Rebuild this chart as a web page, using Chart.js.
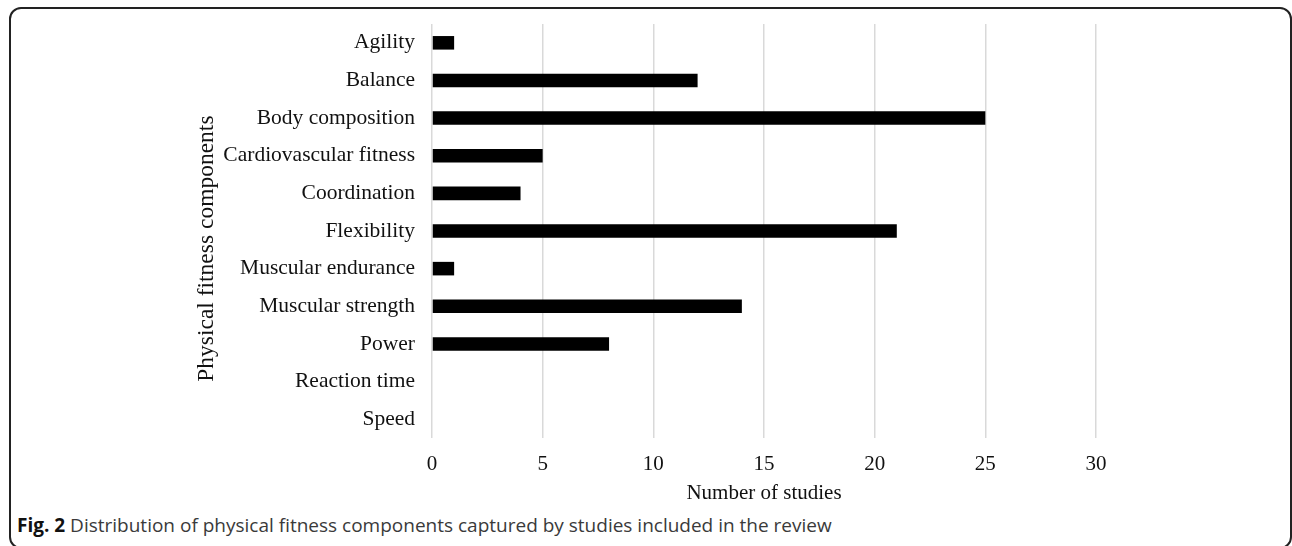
<!DOCTYPE html>
<html>
<head>
<meta charset="utf-8">
<script src="https://cdn.jsdelivr.net/npm/chart.js@4.4.1/dist/chart.umd.min.js"></script>
<style>
  html, body { margin: 0; padding: 0; background: #fff; }
  body { width: 1292px; height: 546px; position: relative; overflow: hidden; }
  .frame {
    position: absolute; left: 9px; top: 7px; width: 1283px; height: 542px;
    border: 2px solid #222; border-radius: 12px; box-sizing: border-box;
  }
  .chart-box { position: absolute; left: 0; top: 0; width: 1292px; height: 510px; }
  .caption {
    position: absolute; left: 17px; top: 512px;
    font-family: "Open Sans", sans-serif; font-size: 19px; color: #3a3a3a;
  }
  .caption b { color: #111; }
</style>
</head>
<body>
<div class="frame"></div>
<div class="chart-box"><canvas id="fitness"></canvas></div>
<div class="caption"><b>Fig. 2</b> Distribution of physical fitness components captured by studies included in the review</div>

<script>
// fitness components counted across the reviewed studies
const components = [
  'Agility',
  'Balance',
  'Body composition',
  'Cardiovascular fitness',
  'Coordination',
  'Flexibility',
  'Muscular endurance',
  'Muscular strength',
  'Power',
  'Reaction time',
  'Speed'
];
const studyCounts = [1, 12, 25, 5, 4, 21, 1, 14, 8, 0, 0];
const xTicks = [0, 5, 10, 15, 20, 25, 30];

const serif = 'Liberation Serif, Times New Roman, serif';

const ctx = document.querySelector('#fitness');

const chartData = {
  labels: components,
  datasets: [
    {
      label: 'Number of studies',
      data: studyCounts,
      backgroundColor: '#000',
      barPercentage: 0.36,
      categoryPercentage: 1
    }
  ]
};

const fitnessChart = new Chart(ctx, {
  type: 'bar',
  data: chartData,
  options: {
    indexAxis: 'y',
    responsive: true,
    maintainAspectRatio: false,
    animation: false,
    layout: { padding: { top: 24, left: 193, right: 196, bottom: 4 } },
    plugins: {
      legend: { display: false },
      tooltip: { enabled: false }
    },
    scales: {
      x: {
        min: 0,
        max: 30,
        afterBuildTicks: (scale) => {
          scale.ticks = xTicks.map(v => ({ value: v }));
        },
        afterFit: (scale) => { scale.height = 68; },
        grid: { color: '#d9d9d9', lineWidth: 1.5, drawTicks: false },
        border: { display: false },
        ticks: { color: '#111', padding: 14, font: { family: serif, size: 21 } },
        title: {
          display: true,
          text: 'Number of studies',
          color: '#111',
          padding: { top: 4, bottom: 0 },
          font: { family: serif, size: 21 }
        }
      },
      y: {
        afterFit: (scale) => { scale.width = 239; },
        grid: { display: false },
        border: { display: false },
        ticks: { color: '#111', padding: 9, font: { family: serif, size: 21.5 } },
        title: {
          display: true,
          // trailing spaces push the rotated title a little lower, like the original
          text: 'Physical fitness components      ',
          color: '#111',
          padding: { top: 0, bottom: 0 },
          font: { family: serif, size: 23.5 }
        }
      }
    }
  }
});
</script>
</body>
</html>
